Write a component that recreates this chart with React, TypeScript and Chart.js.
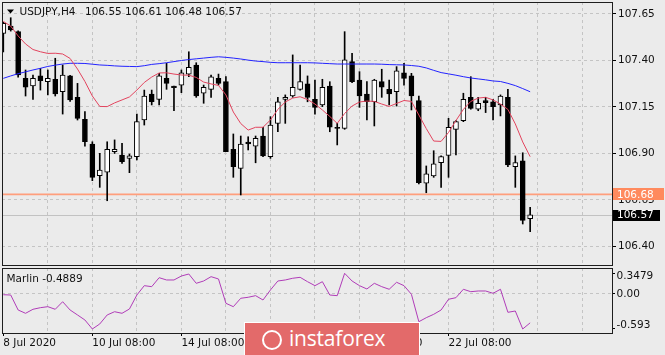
import React, { useEffect, useRef } from 'react';
import { Chart, registerables } from 'chart.js';

Chart.register(...registerables);

// ---------- data ----------
const opens = [107.546, 107.585, 107.555, 107.304, 107.263, 107.317, 107.286, 107.299, 107.232, 107.317, 107.202, 107.084, 106.951, 106.781, 106.799, 106.910, 106.892, 106.874, 106.883, 107.080, 107.220, 107.191, 107.304, 107.263, 107.268, 107.326, 107.376, 107.224, 107.245, 107.304, 107.286, 106.923, 106.820, 106.962, 106.940, 106.994, 106.883, 107.062, 107.191, 107.209, 107.245, 107.274, 107.191, 107.161, 107.263, 107.040, 107.035, 107.394, 107.295, 107.220, 107.178, 107.286, 107.245, 107.232, 107.334, 107.317, 107.184, 106.740, 106.779, 106.850, 106.890, 107.030, 107.076, 107.202, 107.138, 107.184, 107.178, 107.161, 107.202, 106.829, 106.861, 106.550];
const highs = [107.605, 107.630, 107.560, 107.349, 107.322, 107.358, 107.349, 107.412, 107.376, 107.320, 107.277, 107.125, 106.963, 106.901, 106.963, 106.973, 106.955, 106.897, 107.112, 107.241, 107.241, 107.331, 107.385, 107.263, 107.349, 107.447, 107.388, 107.268, 107.322, 107.327, 107.313, 107.005, 106.994, 106.990, 106.994, 107.041, 107.098, 107.202, 107.215, 107.430, 107.376, 107.317, 107.295, 107.299, 107.286, 107.062, 107.555, 107.439, 107.340, 107.286, 107.299, 107.353, 107.295, 107.367, 107.385, 107.331, 107.209, 106.833, 106.915, 106.887, 107.089, 107.077, 107.224, 107.313, 107.202, 107.202, 107.191, 107.215, 107.245, 106.887, 106.904, 106.610];
const lows = [107.446, 107.558, 107.310, 107.209, 107.191, 107.241, 107.215, 107.209, 107.112, 107.180, 107.080, 106.940, 106.754, 106.718, 106.646, 106.900, 106.847, 106.797, 106.865, 107.053, 107.161, 107.161, 107.245, 107.130, 107.227, 107.313, 107.202, 107.170, 107.202, 107.268, 106.910, 106.772, 106.677, 106.919, 106.850, 106.883, 106.874, 107.017, 107.062, 107.202, 107.241, 107.178, 107.112, 107.152, 107.017, 106.946, 107.030, 107.281, 107.148, 107.080, 107.048, 107.202, 107.161, 107.155, 107.268, 107.134, 106.736, 106.689, 106.772, 106.718, 106.772, 106.892, 107.071, 107.138, 107.130, 107.120, 107.080, 107.102, 106.829, 106.718, 106.521, 106.480];
const closes = [107.600, 107.564, 107.322, 107.256, 107.304, 107.291, 107.304, 107.220, 107.322, 107.188, 107.089, 106.963, 106.772, 106.811, 106.923, 106.922, 106.856, 106.887, 107.071, 107.209, 107.178, 107.317, 107.277, 107.254, 107.334, 107.363, 107.209, 107.256, 107.312, 107.277, 106.910, 106.829, 106.951, 106.951, 106.981, 106.887, 107.053, 107.178, 107.202, 107.256, 107.286, 107.202, 107.148, 107.256, 107.041, 107.035, 107.403, 107.286, 107.209, 107.178, 107.295, 107.256, 107.220, 107.345, 107.304, 107.209, 106.743, 106.790, 106.844, 106.883, 107.041, 107.071, 107.191, 107.143, 107.170, 107.173, 107.152, 107.209, 106.838, 106.851, 106.540, 106.570];
const fastMA = [107.610, 107.585, 107.532, 107.489, 107.459, 107.447, 107.438, 107.439, 107.435, 107.411, 107.354, 107.287, 107.209, 107.153, 107.152, 107.172, 107.188, 107.204, 107.241, 107.282, 107.311, 107.333, 107.334, 107.327, 107.322, 107.321, 107.309, 107.284, 107.274, 107.266, 107.215, 107.123, 107.061, 107.026, 107.041, 107.041, 107.080, 107.137, 107.177, 107.198, 107.205, 107.190, 107.166, 107.134, 107.099, 107.062, 107.115, 107.155, 107.177, 107.182, 107.180, 107.166, 107.153, 107.169, 107.185, 107.180, 107.107, 107.034, 106.967, 106.965, 107.013, 107.077, 107.137, 107.180, 107.198, 107.202, 107.188, 107.166, 107.137, 107.059, 106.962, 106.883];
const slowMA = [107.304, 107.317, 107.329, 107.339, 107.349, 107.358, 107.368, 107.375, 107.381, 107.385, 107.385, 107.384, 107.380, 107.376, 107.374, 107.371, 107.369, 107.368, 107.367, 107.372, 107.379, 107.383, 107.388, 107.394, 107.400, 107.405, 107.409, 107.413, 107.417, 107.420, 107.417, 107.413, 107.408, 107.402, 107.397, 107.394, 107.390, 107.388, 107.388, 107.388, 107.388, 107.388, 107.387, 107.385, 107.383, 107.381, 107.381, 107.381, 107.381, 107.381, 107.381, 107.380, 107.378, 107.377, 107.376, 107.373, 107.369, 107.360, 107.347, 107.335, 107.328, 107.321, 107.313, 107.306, 107.301, 107.296, 107.290, 107.287, 107.277, 107.265, 107.249, 107.232];
const marlin = [-0.014, -0.019, -0.272, -0.328, -0.260, -0.233, -0.216, -0.260, -0.132, -0.272, -0.356, -0.441, -0.593, -0.508, -0.356, -0.301, -0.328, -0.255, -0.019, 0.139, 0.122, 0.274, 0.235, 0.235, 0.302, 0.336, 0.179, 0.218, 0.291, 0.252, -0.159, -0.216, -0.074, -0.057, -0.030, -0.103, 0.066, 0.218, 0.235, 0.264, 0.280, 0.206, 0.139, 0.206, -0.019, -0.030, 0.3479, 0.218, 0.139, 0.083, 0.179, 0.122, 0.078, 0.196, 0.139, -0.007, -0.470, -0.402, -0.345, -0.272, -0.091, -0.064, 0.078, 0.037, 0.049, 0.049, 0.010, 0.078, -0.311, -0.289, -0.593, -0.4889];

const priceTicks = [106.40, 106.65, 106.90, 107.15, 107.40, 107.65];
const marlinTicks = [0.3479, 0.0, -0.593];
const marlinTickLabels = ['0.3479', '0.00', '-0.593'];
const gridBars = [6, 12, 18, 24, 30, 36, 42, 48, 54, 60, 66, 72, 78];
const dateBars = [0, 12, 24, 36, 48, 60];
const dateLabels = ['8 Jul 2020', '10 Jul 08:00', '14 Jul 08:00', '16 Jul 08:00', '20 Jul 08:00', '22 Jul 08:00'];
const alertLevel = 106.68;
const bidPrice = 106.57;
const symbolText = 'USDJPY,H4';
const ohlcText = '106.55 106.61 106.48 106.57';
const marlinText = 'Marlin -0.4889';

// ---------- layout / style ----------
const W = 665;
const MAIN_H = 267;
const LOW_TOP = 267;
const LOW_H = 88;
const X_MIN = -0.175;
const X_MAX = 82.03;
const Y_MIN = 106.3005;
const Y_MAX = 107.7145;
const M_MIN = -0.6606;
const M_MAX = 0.4374;
const BG = '#ebebeb';
const GRID = '#c4c4c4';
const FRAME = '#1e1e1e';
const FONT_FAMILY = '"DejaVu Sans", sans-serif';
const FONT = { family: FONT_FAMILY, size: 10.5 };
const RED = '#e2445e';
const BLUE = '#2323ff';
const PURPLE = '#b03cb8';
const ALERT = '#ff9e7c';
const ALERT_BOX = '#ff8a5e';

const idx = opens.map((_, i) => i);

function zeroPad(s: any) {
  s.paddingLeft = 0;
  s.paddingRight = 0;
  s.paddingTop = 0;
  s.paddingBottom = 0;
}

const mainDecor = {
  id: 'mainDecor',
  beforeDatasetsDraw(chart: any) {
    const { ctx, chartArea: a, scales } = chart;
    const y = scales.y;
    ctx.save();
    const by = Math.round(y.getPixelForValue(bidPrice)) + 0.5;
    ctx.strokeStyle = '#c2c2c2';
    ctx.lineWidth = 1;
    ctx.beginPath();
    ctx.moveTo(a.left, by);
    ctx.lineTo(a.right, by);
    ctx.stroke();
    const ay = y.getPixelForValue(alertLevel);
    ctx.strokeStyle = ALERT;
    ctx.lineWidth = 1.6;
    ctx.beginPath();
    ctx.moveTo(a.left, ay);
    ctx.lineTo(a.right, ay);
    ctx.stroke();
    ctx.restore();
  },
  afterDraw(chart: any) {
    const { ctx, chartArea: a, scales } = chart;
    const y = scales.y;
    ctx.save();
    ctx.strokeStyle = FRAME;
    ctx.lineWidth = 1;
    ctx.strokeRect(a.left + 0.5, a.top + 0.5, a.right - a.left, a.bottom - a.top);
    ctx.font = `10.5px ${FONT_FAMILY}`;
    ctx.textBaseline = 'middle';
    const ay = y.getPixelForValue(alertLevel);
    ctx.fillStyle = ALERT_BOX;
    ctx.fillRect(a.right + 1, Math.round(ay) - 6, 51, 12);
    ctx.fillStyle = '#ffffff';
    ctx.fillText(alertLevel.toFixed(2), a.right + 5, ay + 0.5);
    const by = y.getPixelForValue(bidPrice);
    ctx.fillStyle = '#000000';
    ctx.fillRect(a.right + 1, Math.round(by) - 5, 47, 11);
    ctx.fillStyle = '#ffffff';
    ctx.fillText(bidPrice.toFixed(2), a.right + 5, by + 0.5);
    ctx.fillStyle = '#000';
    ctx.beginPath();
    ctx.moveTo(7, 9.5);
    ctx.lineTo(14, 9.5);
    ctx.lineTo(10.5, 13.5);
    ctx.closePath();
    ctx.fill();
    ctx.fillStyle = '#111';
    ctx.fillText(symbolText, 19.5, 12.5);
    ctx.fillText(ohlcText, 85, 12.5);
    ctx.restore();
  },
};

const lowDecor = {
  id: 'lowDecor',
  afterDraw(chart: any) {
    const { ctx, chartArea: a, scales } = chart;
    const y = scales.y;
    ctx.save();
    ctx.strokeStyle = FRAME;
    ctx.lineWidth = 1;
    ctx.strokeRect(a.left + 0.5, a.top + 0.5, a.right - a.left, a.bottom - a.top);
    ctx.font = `10.5px ${FONT_FAMILY}`;
    ctx.textBaseline = 'middle';
    ctx.fillStyle = '#111';
    marlinTicks.forEach((v, k) => {
      let py = y.getPixelForValue(v);
      py = Math.min(Math.max(py, a.top + 8.5), a.bottom - 7.5);
      ctx.fillText(marlinTickLabels[k], a.right + 4.5, py);
    });
    ctx.fillText(marlinText, 6.5, a.top + 11);
    ctx.restore();
  },
};

export default function App() {
  const mainRef = useRef<HTMLCanvasElement | null>(null);
  const lowRef = useRef<HTMLCanvasElement | null>(null);

  useEffect(() => {
    const bodies = idx.map((i) => ({ x: i, y: [opens[i], closes[i]] }));
    const wicks = idx.map((i) => ({ x: i, y: [lows[i], highs[i]] }));
    const main = new Chart(mainRef.current as HTMLCanvasElement, {
      type: 'bar',
      data: {
        datasets: [
          {
            type: 'line',
            data: idx.map((i) => ({ x: i, y: fastMA[i] })),
            borderColor: RED,
            borderWidth: 1,
            pointRadius: 0,
            order: 0,
            clip: 0,
          } as any,
          {
            type: 'line',
            data: idx.map((i) => ({ x: i, y: slowMA[i] })),
            borderColor: BLUE,
            borderWidth: 1,
            pointRadius: 0,
            order: 0,
            clip: 0,
          } as any,
          {
            type: 'bar',
            data: bodies,
            backgroundColor: idx.map((i) => (closes[i] >= opens[i] ? '#ffffff' : '#000000')),
            borderColor: '#000000',
            borderWidth: 1,
            borderSkipped: false,
            barThickness: 5,
            minBarLength: 1,
            grouped: false,
            order: 1,
            clip: 0,
          } as any,
          {
            type: 'bar',
            data: wicks,
            backgroundColor: '#000000',
            borderWidth: 0,
            barThickness: 1,
            grouped: false,
            order: 2,
            clip: 0,
          } as any,
        ],
      },
      options: {
        responsive: false,
        animation: false,
        events: [],
        layout: { padding: { left: 2, top: 2, right: 0, bottom: 0 } },
        plugins: { legend: { display: false }, tooltip: { enabled: false } },
        scales: {
          x: {
            type: 'linear',
            offset: false,
            min: X_MIN,
            max: X_MAX,
            afterBuildTicks: (s: any) => {
              s.ticks = gridBars.map((v) => ({ value: v }));
            },
            ticks: { display: false },
            grid: { color: GRID, drawTicks: false, lineWidth: 1, offset: false },
            border: { display: false, dash: [3, 3] },
            afterFit: (s: any) => {
              s.height = 2;
              zeroPad(s);
            },
          },
          y: {
            type: 'linear',
            position: 'right',
            min: Y_MIN,
            max: Y_MAX,
            afterBuildTicks: (s: any) => {
              s.ticks = priceTicks.map((v) => ({ value: v }));
            },
            ticks: {
              font: FONT,
              color: '#111',
              padding: 2,
              callback: (v: any) => Number(v).toFixed(2),
            },
            grid: { color: GRID, tickColor: '#000', tickLength: 4, tickBorderDash: [] },
            border: { display: false, dash: [3, 3] },
            afterFit: (s: any) => {
              s.width = W - 612;
              zeroPad(s);
            },
          },
        },
      } as any,
      plugins: [mainDecor],
    });

    const low = new Chart(lowRef.current as HTMLCanvasElement, {
      type: 'line',
      data: {
        datasets: [
          {
            data: idx.map((i) => ({ x: i, y: marlin[i] })),
            borderColor: PURPLE,
            borderWidth: 1,
            pointRadius: 0,
            clip: 0,
          } as any,
        ],
      },
      options: {
        responsive: false,
        animation: false,
        events: [],
        layout: { padding: { left: 2, top: 1, right: 0, bottom: 0 } },
        plugins: { legend: { display: false }, tooltip: { enabled: false } },
        scales: {
          x: {
            type: 'linear',
            offset: false,
            min: X_MIN,
            max: X_MAX,
            afterBuildTicks: (s: any) => {
              s.ticks = [0, ...gridBars].map((v) => ({ value: v }));
            },
            ticks: {
              font: FONT,
              color: '#111',
              align: 'start',
              padding: 1,
              maxRotation: 0,
              autoSkip: false,
              callback: (v: any) => {
                const k = dateBars.indexOf(Number(v));
                return k >= 0 ? dateLabels[k] : '';
              },
            },
            grid: {
              offset: false,
              color: (c: any) => (c.tick && c.tick.value === 0 ? 'rgba(0,0,0,0)' : GRID),
              tickColor: (c: any) => (c.tick && dateBars.indexOf(c.tick.value) >= 0 ? '#000' : 'rgba(0,0,0,0)'),
              tickLength: 3,
              tickBorderDash: [],
            },
            border: { display: false, dash: [3, 3] },
            afterFit: (s: any) => {
              s.height = 22;
              zeroPad(s);
            },
          },
          y: {
            type: 'linear',
            position: 'right',
            min: M_MIN,
            max: M_MAX,
            afterBuildTicks: (s: any) => {
              s.ticks = marlinTicks.map((v) => ({ value: v }));
            },
            ticks: { display: false },
            grid: {
              color: (c: any) => (c.tick && c.tick.value === 0 ? GRID : 'rgba(0,0,0,0)'),
              tickColor: '#000',
              tickLength: 3,
              tickBorderDash: [],
            },
            border: { display: false, dash: [3, 3] },
            afterFit: (s: any) => {
              s.width = W - 612;
              zeroPad(s);
            },
          },
        },
      } as any,
      plugins: [lowDecor],
    });

    return () => {
      main.destroy();
      low.destroy();
    };
  }, []);

  return (
    <div
      style={{
        position: 'absolute',
        left: 0,
        top: 0,
        width: W,
        height: 355,
        overflow: 'hidden',
        background: BG,
      }}
    >
      <canvas
        ref={mainRef}
        width={W}
        height={MAIN_H}
        style={{ position: 'absolute', left: 0, top: 0, width: W, height: MAIN_H }}
      />
      <canvas
        ref={lowRef}
        width={W}
        height={LOW_H}
        style={{ position: 'absolute', left: 0, top: LOW_TOP, width: W, height: LOW_H }}
      />
      <div
        style={{
          position: 'absolute',
          left: 244,
          top: 322,
          width: 176,
          height: 40,
          background: '#e36a6a',
          border: '1px solid #ffffff',
          boxSizing: 'border-box',
        }}
      >
        <div
          style={{
            position: 'absolute',
            left: 17,
            top: 7,
            width: 20,
            height: 20,
            borderRadius: '50%',
            border: '2px solid #ffffff',
            boxSizing: 'border-box',
          }}
        />
        <div
          style={{
            position: 'absolute',
            left: 44,
            top: 1,
            color: '#ffffff',
            fontFamily: '"Open Sans", sans-serif',
            fontSize: 21,
            lineHeight: '28px',
            letterSpacing: '-0.2px',
          }}
        >
          instaforex
        </div>
      </div>
    </div>
  );
}
